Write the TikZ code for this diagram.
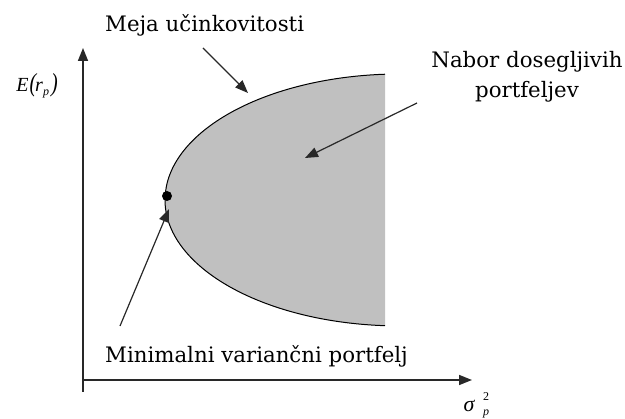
\documentclass[tikz,border=0pt]{standalone}
\usepackage{fontspec}
\setmainfont{DejaVu Serif}
\newfontfamily\mathfont{Liberation Serif}
\usetikzlibrary{arrows.meta}
\definecolor{regiongray}{RGB}{192,192,192}
\definecolor{axisgray}{RGB}{40,40,40}
\begin{document}
\begin{tikzpicture}[x=1pt,y=-1pt,
  axisline/.style={line width=1.6pt,draw=axisgray,-{Triangle[length=13pt,width=10pt]}},
  pointer/.style={line width=1.2pt,draw=axisgray,-{Triangle[length=13pt,width=10pt]}},
  lbl/.style={font=\fontsize{21.3}{30}\selectfont,inner sep=0pt}]
\useasboundingbox (0,0) rectangle (625,419);
% feasible region
\filldraw[fill=regiongray,draw=black,line width=1pt] (385,325.7)
  arc[start angle=93.66,end angle=266.34,x radius=235,y radius=126];
% axes
\coordinate (origin) at (83,380);
\coordinate (ytip) at (83,48);
\coordinate (xtip) at (472,380);
\coordinate (ybottom) at (83,392);
\draw[axisline] (ybottom) -- (ytip);
\draw[axisline] (origin) -- (xtip);
% axis labels
\node[inner sep=0pt,font=\mathfont\fontsize{20}{20}\selectfont] (ylab) at (37,86) {\itshape E\kern1pt\scalebox{1}[1.3]{(}\kern-1pt r\raisebox{-4pt}{\fontsize{12}{12}\selectfont p}\kern2pt\scalebox{1}[1.3]{)}};
\node[inner sep=0pt,font=\mathfont\fontsize{22}{22}\selectfont] (xlab) at (469,406) {\itshape σ};
\node[inner sep=0pt,font=\mathfont\fontsize{12}{12}\selectfont] (xsup) at (486,397) {2};
\node[inner sep=0pt,font=\mathfont\itshape\fontsize{12}{12}\selectfont] (xsub) at (486,414) {p};
% minimum variance point
\node[circle,fill=black,minimum size=10pt,inner sep=0pt] (minvar) at (167,196) {};
% labels
\node[lbl,anchor=base west] (meja) at (105,32) {Meja učinkovitosti};
\node[lbl,anchor=base,align=center] (nabor) at (527,98) {Nabor dosegljivih\\portfeljev};
\node[lbl,anchor=base west] (minlab) at (105,363) {Minimalni variančni portfelj};
% pointers
\coordinate (mejastart) at (203,48);
\coordinate (mejatip) at (248,93);
\coordinate (naborstart) at (417,103);
\coordinate (naborTip) at (305,158);
\coordinate (minstart) at (120,326);
\coordinate (mintip) at (169,209);
\draw[pointer] (mejastart) -- (mejatip);
\draw[pointer] (naborstart) -- (naborTip);
\draw[pointer] (minstart) -- (mintip);
\end{tikzpicture}
\end{document}
